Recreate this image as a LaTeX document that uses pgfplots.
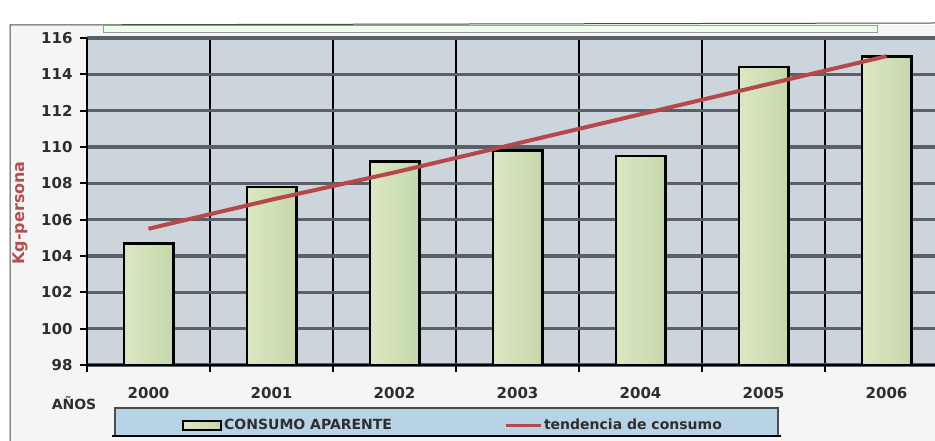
\documentclass[border=0pt]{standalone}
\usepackage{pgfplots}
\pgfplotsset{compat=1.18}
\usepackage{fontspec}
\setmainfont{DejaVu Sans}
\definecolor{plotbg}{HTML}{CDD5DC}
\definecolor{hgrid}{HTML}{5A6068}
\definecolor{trendred}{HTML}{B4484A}
\definecolor{barL}{HTML}{DCE7C4}
\definecolor{barM}{HTML}{F0F3E2}
\definecolor{barR}{HTML}{C4D8AA}
\definecolor{legbg}{HTML}{B9D3E6}
\definecolor{txt}{HTML}{2E2E2E}
\definecolor{ylab}{HTML}{B05050}

\pgfplotsset{
	consbar/.style={ybar, bar width=0.4, draw=black, line width=2.8pt,
		left color=barL, middle color=barM, right color=barR},
}

\begin{document}
\begin{tikzpicture}[x=1pt,y=1pt]
% page = 935 x 441, pixel y measured from top -> 441-y
\path[use as bounding box] (0,0) rectangle (935,441);
\fill[white] (0,0) rectangle (935,441);
\fill[black!4] (10,0) rectangle (935,416);
\draw[black!70, line width=1pt] (10,0) -- (10,416) -- (935,418);
% title box, cut off at the top
\draw[fill=green!8!white, draw=black!40, line width=0.8pt] (103,409) rectangle (877,416);
% legend box
\fill[legbg] (115,5) rectangle (778,33);
\draw[black!70, line width=1.5pt] (115,5) -- (115,33) -- (778,33) -- (778,5);
\draw[black, line width=2.5pt] (112,5) -- (781,5);

\begin{axis}[
	at={(87pt,76pt)}, anchor=south west,
	width=848pt, height=327pt,
	scale only axis,
	xmin=-0.5, xmax=6.394,
	ymin=98, ymax=116,
	axis x line*=bottom,
	axis y line*=left,
	axis line style={black, line width=2.5pt},
	axis background/.style={fill=plotbg},
	xtick={-0.5,0.5,...,5.5},
	xticklabels={},
	extra x ticks={0,1,2,3,4,5,6},
	extra x tick labels={2000,2001,2002,2003,2004,2005,2006},
	extra x tick style={xmajorgrids=false, major tick length=0pt},
	ytick={98,100,...,116},
	xmajorgrids=true, ymajorgrids=true,
	major x grid style={black, line width=2.5pt},
	major y grid style={hgrid, line width=3.5pt},
	tick align=outside,
	major tick length=7pt,
	tick style={black, line width=2pt},
	/pgf/number format/assume math mode=true,
	ticklabel style={font=\fontsize{15}{17}\selectfont\bfseries, text=txt},
	xticklabel style={anchor=center, yshift=-28pt},
	yticklabel style={xshift=-4pt},
	ylabel={Kg-persona},
	ylabel style={at={(axis description cs:-0.079,0.465)}, anchor=center,
		font=\fontsize{16}{18}\selectfont\bfseries, text=ylab},
	legend style={at={(axis description cs:0.112,-0.1835)}, anchor=west,
		draw=none, fill=none, legend columns=2, inner sep=0pt,
		font=\fontsize{14}{16}\selectfont\bfseries, text=txt,
		/tikz/every even column/.append style={column sep=110pt}},
	legend cell align=left,
	clip mode=individual,
]
% one plot per bar, so that each bar gets its own shading
\addplot[consbar,
	legend image code/.code={\draw[draw=black, line width=2pt, left color=barL, middle color=barM, right color=barR] (0pt,-4.5pt) rectangle (38pt,4.5pt);}]
coordinates{(0, 104.7)};
\addlegendentry{CONSUMO APARENTE}
\addplot[consbar, forget plot] coordinates{(1, 107.8)};
\addplot[consbar, forget plot] coordinates{(2, 109.2)};
\addplot[consbar, forget plot] coordinates{(3, 109.8)};
\addplot[consbar, forget plot] coordinates{(4, 109.5)};
\addplot[consbar, forget plot] coordinates{(5, 114.4)};
\addplot[consbar, forget plot] coordinates{(6, 115.0)};

\addplot[color=trendred, line width=4pt, mark=none,
	legend image code/.code={\draw[trendred, line width=3pt] (0pt,0pt) -- (35pt,0pt);}]
coordinates{
	(0, 105.5)
	(1, 107.1)
	(2, 108.6)
	(3, 110.2)
	(4, 111.8)
	(5, 113.4)
	(6, 115.0)
};
\addlegendentry{tendencia de consumo}

\node[font=\fontsize{14}{16}\selectfont\bfseries, text=txt] at (axis description cs:-0.0153,-0.116) {AÑOS};
\end{axis}
\end{tikzpicture}
\end{document}
